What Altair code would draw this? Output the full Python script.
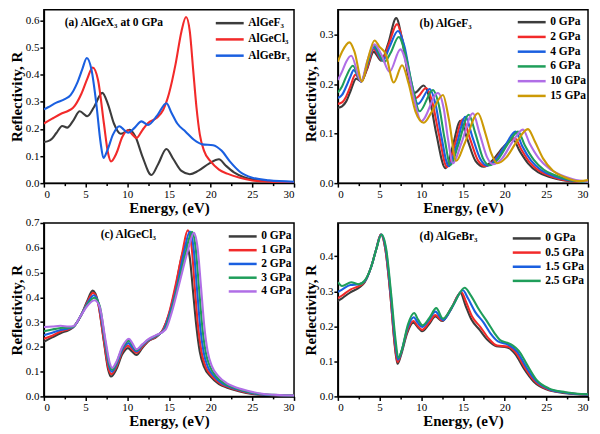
import altair as alt
import pandas as pd

FONT = "Liberation Serif"
W, H = 251, 174

E_TICKS = [0, 5, 10, 15, 20, 25, 30]
E_MINOR = [2.5, 7.5, 12.5, 17.5, 22.5, 27.5]

C_DARK = "#3c3c3c"
C_RED = "#f22a2a"
C_BLUE = "#1a5fe0"
C_GREEN = "#1f9e5a"
C_PURPLE = "#b06ee6"
C_GOLD = "#cc9a06"

# ---------------- AlGeF3 (pressure series) ----------------
F3_P0_X = [0, 0.5, 1.0, 1.5, 2.2, 2.8, 3.5, 4.3, 5.2, 6.0, 7.0, 7.7, 8.4, 9.2, 10.3, 11.0, 11.8, 12.9, 13.7, 14.7, 15.5, 16.5, 17.5, 18.5, 19.8, 21.0, 21.8, 22.8, 24.0, 25.5, 27.0, 30]
F3_P0_Y = [0.152, 0.155, 0.165, 0.185, 0.211, 0.205, 0.23, 0.265, 0.247, 0.28, 0.333, 0.29, 0.22, 0.182, 0.197, 0.17, 0.1, 0.03, 0.07, 0.126, 0.09, 0.045, 0.033, 0.045, 0.072, 0.088, 0.065, 0.04, 0.022, 0.012, 0.006, 0.002]

F3_P2_X = [0, 0.5, 1.0, 1.5, 2.1, 2.8, 3.5, 4.3, 5.3, 6.1, 7.1, 7.8, 8.6, 9.4, 10.6, 11.3, 12.1, 13.1, 13.9, 15.0, 15.8, 16.8, 17.7, 18.7, 20.0, 21.2, 22.0, 23.0, 24.2, 25.7, 27.2, 30]
F3_P2_Y = [0.16, 0.163, 0.175, 0.195, 0.219, 0.205, 0.232, 0.27, 0.248, 0.28, 0.321, 0.285, 0.215, 0.172, 0.192, 0.165, 0.1, 0.032, 0.07, 0.129, 0.092, 0.046, 0.034, 0.045, 0.073, 0.091, 0.068, 0.042, 0.024, 0.013, 0.006, 0.002]

F3_P4_X = [0, 0.5, 1.0, 1.5, 1.9, 2.8, 3.5, 4.3, 5.4, 6.2, 7.2, 8.0, 8.8, 9.6, 11.0, 11.7, 12.4, 13.3, 14.2, 15.3, 16.1, 17.1, 17.9, 18.9, 20.2, 21.3, 22.1, 23.2, 24.4, 25.9, 27.4, 30]
F3_P4_Y = [0.172, 0.178, 0.195, 0.215, 0.228, 0.205, 0.238, 0.274, 0.247, 0.275, 0.307, 0.275, 0.205, 0.16, 0.19, 0.16, 0.095, 0.034, 0.075, 0.134, 0.095, 0.048, 0.035, 0.047, 0.08, 0.104, 0.075, 0.045, 0.026, 0.014, 0.007, 0.002]

F3_P6_X = [0, 0.5, 1.0, 1.8, 2.8, 3.5, 4.3, 5.6, 6.3, 7.3, 8.1, 9.0, 9.8, 11.4, 12.1, 12.8, 13.5, 14.4, 15.7, 16.5, 17.4, 18.2, 19.2, 20.5, 21.6, 22.4, 23.5, 24.7, 26.2, 27.7, 30]
F3_P6_Y = [0.183, 0.195, 0.215, 0.237, 0.205, 0.24, 0.278, 0.245, 0.262, 0.295, 0.26, 0.19, 0.145, 0.188, 0.158, 0.09, 0.036, 0.075, 0.138, 0.1, 0.05, 0.036, 0.048, 0.082, 0.104, 0.077, 0.047, 0.027, 0.015, 0.007, 0.002]

F3_P10_X = [0, 0.5, 1.0, 1.6, 2.8, 3.5, 4.4, 5.2, 6.2, 7.5, 8.3, 9.2, 10.0, 12.0, 12.7, 13.2, 13.8, 14.8, 16.2, 17.0, 17.9, 18.6, 19.7, 21.0, 22.2, 23.0, 24.1, 25.3, 26.8, 28.2, 30]
F3_P10_Y = [0.208, 0.225, 0.245, 0.257, 0.205, 0.245, 0.28, 0.26, 0.225, 0.27, 0.235, 0.165, 0.125, 0.182, 0.15, 0.09, 0.04, 0.08, 0.141, 0.1, 0.052, 0.038, 0.05, 0.085, 0.108, 0.08, 0.05, 0.03, 0.016, 0.008, 0.003]

F3_P15_X = [0, 0.5, 1.4, 2.0, 2.9, 3.6, 4.4, 5.0, 5.7, 6.7, 7.7, 8.5, 9.3, 10.3, 11.3, 12.6, 13.3, 14.2, 15.2, 16.8, 17.7, 18.4, 19.1, 20.2, 21.5, 22.8, 23.6, 24.6, 25.8, 27.2, 29.0, 30]
F3_P15_Y = [0.245, 0.265, 0.284, 0.265, 0.205, 0.25, 0.288, 0.275, 0.262, 0.203, 0.238, 0.2, 0.145, 0.122, 0.145, 0.178, 0.13, 0.045, 0.08, 0.141, 0.1, 0.06, 0.04, 0.052, 0.085, 0.109, 0.085, 0.05, 0.025, 0.012, 0.004, 0.006]

# ---------------- AlGeCl3 (pressure series) ----------------
CL_P0_X = [0, 1, 2, 3, 3.5, 4.5, 5.2, 5.85, 6.5, 7.2, 7.7, 8.05, 8.7, 9.4, 10.1, 10.6, 11.1, 11.8, 12.5, 13.5, 14.3, 15.0, 15.8, 16.5, 17.05, 17.5, 17.9, 18.3, 18.7, 19.2, 20.0, 21.0, 22.0, 23.5, 25.0, 27.0, 30]
CL_P0_Y = [0.22, 0.238, 0.255, 0.268, 0.278, 0.33, 0.385, 0.427, 0.38, 0.22, 0.11, 0.08, 0.11, 0.17, 0.195, 0.18, 0.167, 0.195, 0.222, 0.24, 0.27, 0.33, 0.44, 0.56, 0.613, 0.56, 0.42, 0.28, 0.18, 0.12, 0.08, 0.05, 0.035, 0.02, 0.01, 0.005, 0.002]

CL_P1_X = [0, 1, 2, 3, 3.5, 4.5, 5.2, 5.9, 6.5, 7.2, 7.7, 8.1, 8.7, 9.4, 10.1, 10.6, 11.1, 11.8, 12.5, 13.5, 14.3, 15.0, 15.8, 16.6, 17.25, 17.7, 18.1, 18.5, 18.9, 19.4, 20.2, 21.2, 22.2, 23.7, 25.2, 27.2, 30]
CL_P1_Y = [0.233, 0.245, 0.262, 0.272, 0.28, 0.33, 0.38, 0.418, 0.376, 0.225, 0.12, 0.09, 0.12, 0.18, 0.205, 0.19, 0.176, 0.2, 0.224, 0.242, 0.27, 0.335, 0.45, 0.58, 0.67, 0.61, 0.44, 0.28, 0.18, 0.12, 0.08, 0.051, 0.036, 0.021, 0.011, 0.005, 0.002]

CL_P2_X = [0, 1, 2, 3, 3.5, 4.5, 5.2, 6.0, 6.6, 7.3, 7.8, 8.15, 8.7, 9.4, 10.15, 10.6, 11.1, 11.8, 12.5, 13.5, 14.4, 15.1, 16.0, 16.8, 17.5, 17.95, 18.35, 18.75, 19.15, 19.65, 20.4, 21.4, 22.4, 23.9, 25.4, 27.4, 30]
CL_P2_Y = [0.247, 0.257, 0.268, 0.275, 0.28, 0.33, 0.375, 0.408, 0.37, 0.225, 0.125, 0.1, 0.128, 0.188, 0.215, 0.198, 0.182, 0.205, 0.226, 0.244, 0.27, 0.335, 0.45, 0.58, 0.665, 0.6, 0.44, 0.28, 0.18, 0.12, 0.082, 0.052, 0.037, 0.022, 0.011, 0.005, 0.002]

CL_P3_X = [0, 1, 2, 3, 3.5, 4.5, 5.2, 6.05, 6.7, 7.35, 7.85, 8.2, 8.7, 9.4, 10.2, 10.6, 11.1, 11.8, 12.5, 13.5, 14.5, 15.2, 16.1, 17.0, 17.75, 18.2, 18.6, 19.0, 19.4, 19.9, 20.6, 21.6, 22.6, 24.1, 25.6, 27.6, 30]
CL_P3_Y = [0.263, 0.27, 0.276, 0.278, 0.281, 0.33, 0.37, 0.398, 0.365, 0.225, 0.13, 0.108, 0.135, 0.195, 0.225, 0.208, 0.187, 0.208, 0.228, 0.246, 0.27, 0.335, 0.45, 0.58, 0.664, 0.6, 0.44, 0.28, 0.18, 0.122, 0.083, 0.053, 0.038, 0.022, 0.012, 0.006, 0.003]

CL_P4_X = [0, 1, 2, 3, 3.5, 4.5, 5.2, 6.1, 6.7, 7.4, 7.9, 8.2, 8.7, 9.4, 10.2, 10.6, 11.1, 11.8, 12.5, 13.5, 14.6, 15.3, 16.2, 17.2, 18.0, 18.45, 18.85, 19.25, 19.65, 20.15, 20.9, 21.9, 22.9, 24.4, 25.9, 27.9, 30]
CL_P4_Y = [0.28, 0.282, 0.285, 0.282, 0.283, 0.33, 0.365, 0.388, 0.36, 0.225, 0.135, 0.115, 0.14, 0.2, 0.233, 0.215, 0.19, 0.21, 0.23, 0.248, 0.27, 0.335, 0.45, 0.58, 0.66, 0.595, 0.44, 0.28, 0.18, 0.122, 0.083, 0.054, 0.038, 0.023, 0.012, 0.006, 0.003]

# ---------------- AlGeBr3 (pressure series) ----------------
BR_P0_X = [0, 0.5, 1.5, 2.5, 3.2, 4.0, 4.6, 5.15, 5.7, 6.3, 6.8, 7.15, 7.6, 8.3, 9.05, 9.6, 10.1, 10.9, 11.7, 12.5, 13.6, 14.7, 15.3, 16.0, 17.0, 18.0, 19.0, 20.3, 21.3, 22.3, 23.5, 25.0, 27.0, 30]
BR_P0_Y = [0.272, 0.28, 0.297, 0.31, 0.325, 0.37, 0.42, 0.462, 0.42, 0.29, 0.15, 0.093, 0.12, 0.18, 0.21, 0.197, 0.186, 0.205, 0.228, 0.215, 0.25, 0.295, 0.26, 0.22, 0.19, 0.16, 0.143, 0.14, 0.12, 0.08, 0.042, 0.02, 0.01, 0.005]

BR_P05_X = [0, 0.5, 1.5, 2.5, 3.2, 4.0, 4.6, 5.15, 5.7, 6.3, 6.8, 7.15, 7.6, 8.3, 9.05, 9.6, 10.1, 10.9, 11.7, 12.5, 13.6, 14.8, 15.4, 16.1, 17.1, 18.1, 19.1, 20.4, 21.4, 22.4, 23.6, 25.1, 27.1, 30]
BR_P05_Y = [0.28, 0.288, 0.305, 0.315, 0.327, 0.37, 0.42, 0.462, 0.42, 0.29, 0.155, 0.098, 0.125, 0.185, 0.215, 0.2, 0.19, 0.21, 0.232, 0.217, 0.252, 0.298, 0.268, 0.228, 0.198, 0.165, 0.145, 0.142, 0.123, 0.083, 0.044, 0.021, 0.011, 0.005]

BR_P15_X = [0, 0.5, 1.5, 2.5, 3.2, 4.0, 4.6, 5.2, 5.75, 6.35, 6.85, 7.2, 7.65, 8.35, 9.1, 9.6, 10.1, 10.9, 11.7, 12.6, 13.7, 15.0, 15.6, 16.5, 17.5, 18.3, 19.2, 20.4, 21.5, 22.5, 23.7, 25.2, 27.2, 30]
BR_P15_Y = [0.298, 0.305, 0.318, 0.32, 0.328, 0.37, 0.42, 0.462, 0.42, 0.29, 0.16, 0.105, 0.13, 0.195, 0.226, 0.21, 0.198, 0.218, 0.242, 0.218, 0.255, 0.303, 0.28, 0.24, 0.21, 0.18, 0.157, 0.148, 0.128, 0.087, 0.046, 0.022, 0.011, 0.005]

BR_P25_X = [0, 0.5, 1.6, 2.5, 3.2, 4.0, 4.6, 5.25, 5.8, 6.4, 6.9, 7.25, 7.7, 8.4, 9.15, 9.6, 10.15, 11.0, 11.8, 12.6, 13.8, 15.2, 15.9, 17.0, 18.0, 18.8, 19.5, 20.3, 21.0, 21.7, 22.7, 23.8, 25.3, 27.3, 30]
BR_P25_Y = [0.326, 0.315, 0.326, 0.32, 0.33, 0.37, 0.42, 0.462, 0.42, 0.29, 0.165, 0.11, 0.135, 0.205, 0.238, 0.22, 0.203, 0.225, 0.252, 0.222, 0.26, 0.31, 0.29, 0.245, 0.21, 0.18, 0.16, 0.153, 0.145, 0.13, 0.09, 0.048, 0.023, 0.012, 0.006]

# ---------------- panel definitions ----------------
A_NAMES = ["AlGeF₃", "AlGeCl₃", "AlGeBr₃"]
A_SERIES = [(F3_P0_X, F3_P0_Y), (CL_P0_X, CL_P0_Y), (BR_P0_X, BR_P0_Y)]
A_COLORS = [C_DARK, C_RED, C_BLUE]

B_NAMES = ["0 GPa", "2 GPa", "4 GPa", "6 GPa", "10 GPa", "15 GPa"]
B_SERIES = [(F3_P0_X, F3_P0_Y), (F3_P2_X, F3_P2_Y), (F3_P4_X, F3_P4_Y),
            (F3_P6_X, F3_P6_Y), (F3_P10_X, F3_P10_Y), (F3_P15_X, F3_P15_Y)]
B_COLORS = [C_DARK, C_RED, C_BLUE, C_GREEN, C_PURPLE, C_GOLD]

C_NAMES = ["0 GPa", "1 GPa", "2 GPa", "3 GPa", "4 GPa"]
C_SERIES = [(CL_P0_X, CL_P0_Y), (CL_P1_X, CL_P1_Y), (CL_P2_X, CL_P2_Y),
            (CL_P3_X, CL_P3_Y), (CL_P4_X, CL_P4_Y)]
C_COLORS = [C_DARK, C_RED, C_BLUE, C_GREEN, C_PURPLE]

D_NAMES = ["0 GPa", "0.5 GPa", "1.5 GPa", "2.5 GPa"]
D_SERIES = [(BR_P0_X, BR_P0_Y), (BR_P05_X, BR_P05_Y), (BR_P15_X, BR_P15_Y), (BR_P25_X, BR_P25_Y)]
D_COLORS = [C_DARK, C_RED, C_BLUE, C_GREEN]


def panel(key, series, names, colors, ymax, yticks, label, lab_x, lab_y,
          leg_x, leg_y, row_pad):
    rows = []
    for name, (xs, ys) in zip(names, series):
        for i, (x, y) in enumerate(zip(xs, ys)):
            rows.append({"E": x, "R": y, key: name, "o": i})
    df = pd.DataFrame(rows)
    xscale = alt.Scale(domain=[0, 30], nice=False, zero=False)
    yscale = alt.Scale(domain=[0, ymax], nice=False, zero=False)
    lines = alt.Chart(df).mark_line(interpolate="monotone", strokeWidth=2.1, clip=True).encode(
        x=alt.X("E:Q", scale=xscale,
                axis=alt.Axis(values=E_TICKS, format="d", title="Energy, (eV)")),
        y=alt.Y("R:Q", scale=yscale,
                axis=alt.Axis(values=yticks, format=".1f", title="Reflectivity, R")),
        color=alt.Color(f"{key}:N", sort=names,
                        scale=alt.Scale(domain=names, range=colors),
                        legend=alt.Legend(title=None, orient="none", legendX=leg_x, legendY=leg_y,
                                          symbolType="M-2.8,0H2.8", symbolSize=100,
                                          symbolStrokeWidth=2.5, labelFont=FONT,
                                          labelFontSize=11.5, labelFontWeight="bold",
                                          labelColor="black", rowPadding=row_pad,
                                          labelOffset=12, padding=0)),
        order="o:Q",
    )
    minor = alt.Chart(df).mark_point(opacity=0).encode(
        x=alt.X("E:Q", scale=xscale,
                axis=alt.Axis(values=E_MINOR, labels=False, domain=False, title=None,
                              tickSize=2.5, orient="bottom")),
        y=alt.Y("R:Q", scale=yscale, axis=None),
    )
    txt = alt.Chart(pd.DataFrame({"t": [label]})).mark_text(
        align="left", baseline="middle", font=FONT, fontSize=11.5,
        fontWeight="bold", color="black").encode(
        text="t:N", x=alt.value(lab_x), y=alt.value(lab_y))
    return alt.layer(lines, minor, txt).resolve_axis(x="independent", y="independent").properties(
        width=W, height=H)


pa = panel("sa", A_SERIES, A_NAMES, A_COLORS, 0.64, [0, 0.1, 0.2, 0.3, 0.4, 0.5, 0.6],
           "(a) AlGeX₃ at 0 GPa", 21, 13.5, 180, 7, 4.3)
pb = panel("sb", B_SERIES, B_NAMES, B_COLORS, 0.35, [0, 0.1, 0.2, 0.3],
           "(b) AlGeF₃", 82, 14.5, 188, 6, 2.8)
pc = panel("sc", C_SERIES, C_NAMES, C_COLORS, 0.7, [0, 0.1, 0.2, 0.3, 0.4, 0.5, 0.6, 0.7],
           "(c) AlGeCl₃", 57, 12.5, 193, 7, 1.8)
pd_ = panel("sd", D_SERIES, D_NAMES, D_COLORS, 0.495, [0, 0.1, 0.2, 0.3, 0.4],
            "(d) AlGeBr₃", 82, 14, 183, 9, 2.2)

top = alt.hconcat(pa, pb, spacing=4).resolve_scale(color="independent")
bottom = alt.hconcat(pc, pd_, spacing=4).resolve_scale(color="independent")

chart = alt.vconcat(top, bottom, spacing=0).resolve_scale(color="independent").properties(
    padding=0
).configure_view(
    stroke="black", strokeWidth=1.5
).configure_axis(
    labelFont=FONT, labelFontSize=11, labelColor="black", labelPadding=1,
    titleFont=FONT, titleFontSize=15, titleFontWeight="bold", titleColor="black",
    domainColor="black", domainWidth=1.5, tickColor="black", tickWidth=1.5,
    tickSize=4, grid=False
).configure_axisY(
    titlePadding=1
).configure_axisX(
    titlePadding=1
)

chart.save("out.html", embed_options={"renderer": "svg", "actions": False})
